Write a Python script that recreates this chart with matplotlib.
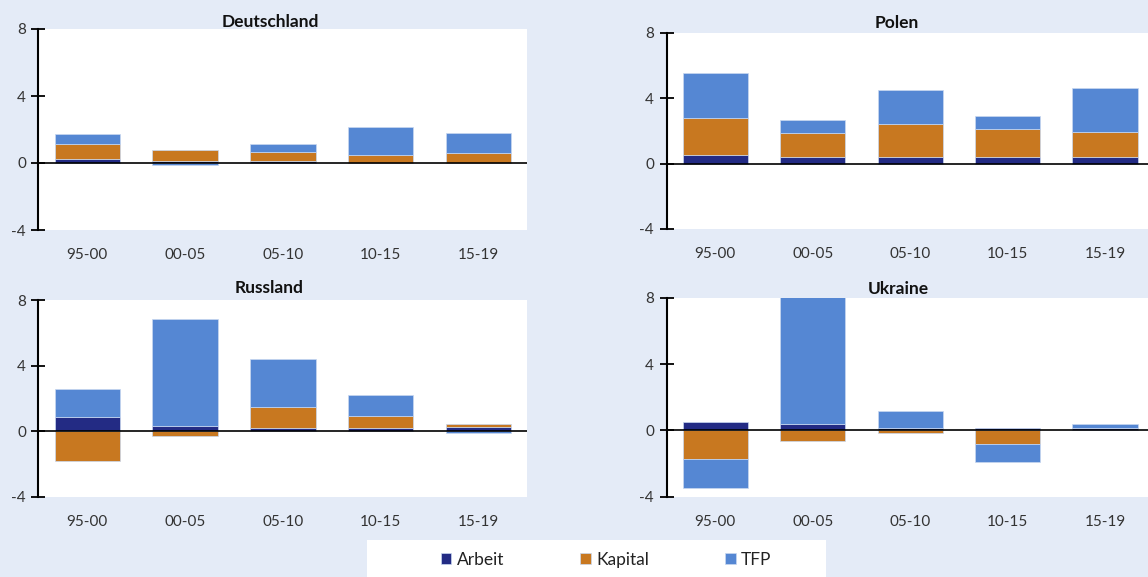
import matplotlib
matplotlib.use('Agg')

import numpy as np
import matplotlib.pyplot as plt
from matplotlib.patches import Rectangle

plt.rcParams['font.family'] = ['Lato', 'DejaVu Sans']

periods = ['95-00', '00-05', '05-10', '10-15', '15-19']
series = ['Arbeit', 'Kapital', 'TFP']

de_arbeit = [0.22, 0.14, 0.13, 0.02, 0.02]
de_kapital = [0.90, 0.62, 0.52, 0.44, 0.56]
de_tfp = [0.62, -0.10, 0.46, 1.66, 1.20]

pl_arbeit = [0.53, 0.39, 0.39, 0.39, 0.43]
pl_kapital = [2.27, 1.45, 2.04, 1.74, 1.53]
pl_tfp = [2.72, 0.80, 2.09, 0.79, 2.66]

ru_arbeit = [0.88, 0.31, 0.20, 0.20, 0.27]
ru_kapital = [-1.80, -0.29, 1.29, 0.72, 0.16]
ru_tfp = [1.69, 6.55, 2.90, 1.26, -0.12]

ua_arbeit = [0.48, 0.36, 0.15, 0.15, 0.14]
ua_kapital = [-1.75, -0.65, -0.18, -0.85, 0.02]
ua_tfp = [-1.74, 7.90, 1.01, -1.07, 0.22]

colors = ['#232b84', '#c87820', '#5587d3']
bg = '#e4ebf7'

W, H = 1148, 577

def px_axes(fig, left, right, top, bottom):
    return fig.add_axes([left / W, 1 - bottom / H, (right - left) / W, (bottom - top) / H])

fig = plt.figure(figsize=(W / 100, H / 100), dpi=100)
fig.patch.set_facecolor(bg)

panels = [
    ('Deutschland', (de_arbeit, de_kapital, de_tfp), (38.4, 527.4, 29, 230), (-0.5, 4.5), (270, 22)),
    ('Polen', (pl_arbeit, pl_kapital, pl_tfp), (666.6, 1148, 32.7, 229), (-0.5, 4.44), (897, 23)),
    ('Russland', (ru_arbeit, ru_kapital, ru_tfp), (38.4, 527.4, 300, 496.7), (-0.5, 4.5), (269, 288)),
    ('Ukraine', (ua_arbeit, ua_kapital, ua_tfp), (666.6, 1148, 297.7, 496.7), (-0.5, 4.44), (898, 289)),
]

handles = []
for title, data, box, xlim, tpos in panels:
    ax = px_axes(fig, *box)
    x = np.arange(len(periods))
    pos = np.zeros(len(periods))
    neg = np.zeros(len(periods))
    hs = []
    for name, vals, c in zip(series, data, colors):
        vals = np.array(vals)
        bottom = np.where(vals >= 0, pos, neg)
        h = ax.bar(x, vals, bottom=bottom, width=0.67, color=c,
                   edgecolor='#c9d8f0', linewidth=0.5, label=name, zorder=2)
        hs.append(h)
        pos = pos + np.where(vals >= 0, vals, 0)
        neg = neg + np.where(vals < 0, vals, 0)
    handles = hs

    ax.axhline(0, color='black', lw=1.2, zorder=3)
    ax.set_xlim(*xlim)
    ax.set_ylim(-4, 8)
    ax.set_yticks([-4, 0, 4, 8])
    ax.set_yticklabels(['-4', '0', '4', '8'])
    ax.set_xticks(x)
    ax.set_xticklabels(periods)
    for s in ['top', 'right', 'bottom']:
        ax.spines[s].set_visible(False)
    ax.spines['left'].set_linewidth(1.5)
    ax.tick_params(axis='y', direction='inout', length=10, width=1.3,
                   labelsize=11, labelcolor='#333333', pad=4)
    ax.tick_params(axis='x', length=0, labelsize=11, labelcolor='#333333', pad=13)

    fig.text(tpos[0] / W, 1 - tpos[1] / H, title, ha='center', va='center',
             fontsize=12.5, fontweight='bold', color='#111111')

# legend box
fig.patches.append(Rectangle((367 / W, 0), (826 - 367) / W, 37 / H,
                             transform=fig.transFigure, facecolor='white',
                             edgecolor='none', zorder=0))
fig.legend(handles=handles, labels=series, loc='center left',
           bbox_to_anchor=(441 / W, 17 / H), ncol=3, frameon=False,
           fontsize=12.5, handlelength=0.6, handleheight=0.6,
           handletextpad=0.3, columnspacing=4.4, borderpad=0,
           borderaxespad=0, labelcolor='#222222')

fig.savefig('out.png', dpi=100, facecolor=bg)
